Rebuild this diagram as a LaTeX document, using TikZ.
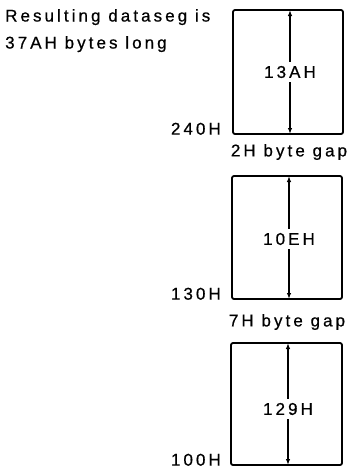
\documentclass[tikz,border=0pt]{standalone}
\usepackage{fontspec}
\setmainfont[LetterSpace=18,FakeBold=0.6]{Liberation Sans}
\usetikzlibrary{arrows.meta}
\begin{document}
\begin{tikzpicture}[x=1pt,y=-1pt,
  every node/.style={inner sep=0pt,font=\fontsize{17}{20}\selectfont},
  segbox/.style={draw,line width=1.8pt,rounded corners=2pt},
  dim/.style={line width=1.6pt,-{Latex[length=6pt,width=4.5pt]}},
  addr/.style={anchor=south east},
  gap/.style={anchor=center}]
\useasboundingbox (0,0) rectangle (353,472);
% boxes
\draw[segbox] (233,10) rectangle (343,134);
\draw[segbox] (232,176) rectangle (342,299);
\draw[segbox] (231,343) rectangle (342,465);
% edge coordinates
\coordinate (t1) at (290,10);  \coordinate (b1) at (290,134);
\coordinate (t2) at (289,176); \coordinate (b2) at (289,299);
\coordinate (t3) at (288,343); \coordinate (b3) at (288,465);
% size labels
\node (s1) at (290,72) {13AH};
\node (s2) at (289,239) {10EH};
\node (s3) at (288,409) {129H};
\draw[dim] (s1.north) ++(0,-4) -- (t1);
\draw[dim] (s1.south) ++(0,4) -- (b1);
\draw[dim] (s2.north) ++(0,-4) -- (t2);
\draw[dim] (s2.south) ++(0,4) -- (b2);
\draw[dim] (s3.north) ++(0,-4) -- (t3);
\draw[dim] (s3.south) ++(0,4) -- (b3);
% addresses
\node[addr] (a1) at (221,135) {240H};
\node[addr] (a2) at (221,300) {130H};
\node[addr] (a3) at (221,466) {100H};
% gaps
\node[gap] (g1) at (289,152) {2H byte gap};
\node[gap] (g2) at (287,322) {7H byte gap};
% title
\node[anchor=north west,align=left,font=\fontsize{17}{27}\selectfont] (title) at (5,9) {Resulting dataseg is\\37AH bytes long};
\end{tikzpicture}
\end{document}
